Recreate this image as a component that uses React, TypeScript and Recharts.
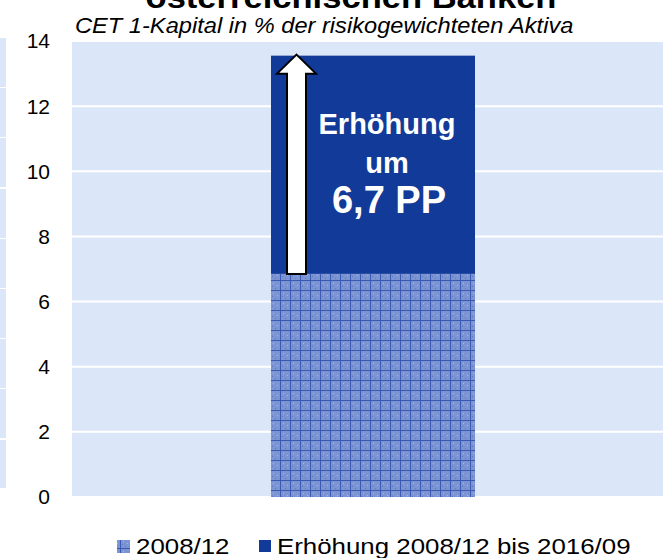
import React from "react";
import { BarChart, Bar, XAxis, YAxis, CartesianGrid } from "recharts";

const categories = ["Österreichische Banken"];
const baseValues = [6.85];
const increaseValues = [6.7];
const seriesNames = ["2008/12", "Erhöhung 2008/12 bis 2016/09"];
const yTicks = [0, 2, 4, 6, 8, 10, 12, 14];
const barText = ["Erhöhung", "um", "6,7 PP"];

const FONT = "'Liberation Sans', Arial, Helvetica, sans-serif";
const DARK = "#123b99";
const PLOT_BG = "#dce6f9";

const data = categories.map((name, i) => ({
  name,
  base: baseValues[i],
  increase: increaseValues[i],
}));

function PatternDefs() {
  return (
    <svg width={0} height={0} style={{ position: "absolute" }}>
      <defs>
        <pattern id="gridPat" width={10} height={10} patternUnits="userSpaceOnUse">
          <rect width={10} height={10} fill="#7c95d2" />
          <rect x={3} y={3} width={1} height={1} fill="#a4b5e0" />
          <rect x={7} y={5} width={1} height={1} fill="#a4b5e0" />
          <rect x={5} y={8} width={1} height={1} fill="#5c78c6" />
          <rect x={2} y={6} width={1} height={1} fill="#5c78c6" />
          <rect x={0} y={0} width={10} height={1} fill="#3a59b2" />
          <rect x={0} y={0} width={1} height={10} fill="#3a59b2" />
        </pattern>
      </defs>
    </svg>
  );
}

function IncreaseShape(props: any) {
  const { x, y, width, height } = props;
  const ax = x + 25.5;
  const bottom = y + height;
  const headY = y + 18;
  const arrow = [
    [ax - 9.5, bottom],
    [ax - 9.5, headY],
    [ax - 19.5, headY],
    [ax, y - 1],
    [ax + 19.5, headY],
    [ax + 9.5, headY],
    [ax + 9.5, bottom],
  ]
    .map((p) => p.join(","))
    .join(" ");
  const cx = x + width / 2 + 14;
  return (
    <g>
      <rect x={x} y={y} width={width} height={height} fill={DARK} />
      <polygon points={arrow} fill="#ffffff" stroke="#000000" strokeWidth={2} />
      <text x={cx} y={y + 78} textAnchor="middle" fill="#ffffff" fontFamily={FONT} fontWeight="bold" fontSize={29}>
        {barText[0]}
      </text>
      <text x={cx} y={y + 117} textAnchor="middle" fill="#ffffff" fontFamily={FONT} fontWeight="bold" fontSize={29}>
        {barText[1]}
      </text>
      <text x={cx + 2} y={y + 157} textAnchor="middle" fill="#ffffff" fontFamily={FONT} fontWeight="bold" fontSize={38}>
        {barText[2]}
      </text>
    </g>
  );
}

export default function App() {
  return (
    <div
      style={{
        position: "absolute",
        left: 0,
        top: 0,
        width: 663,
        height: 558,
        overflow: "hidden",
        background: "#ffffff",
        fontFamily: FONT,
      }}
    >
      <PatternDefs />
      {/* neighbouring panel, cut off at the left edge */}
      <div
        style={{
          position: "absolute",
          left: 0,
          top: 38,
          width: 6,
          height: 450,
          background:
            "repeating-linear-gradient(to bottom, #dce6f9 0px, #dce6f9 49px, #ffffff 49px, #ffffff 50.2px)",
        }}
      />
      <svg width={663} height={40} style={{ position: "absolute", left: 0, top: 0 }}>
        <g transform="translate(351,8) scale(1.08,1)">
          <text x={0} y={0} textAnchor="middle" fontFamily={FONT} fontWeight="bold" fontSize={32} fill="#000">
            österreichischen Banken
          </text>
        </g>
        <g transform="translate(75,33) scale(1.075,1)">
          <text x={0} y={0} fontFamily={FONT} fontStyle="italic" fontSize={22} fill="#000">
            CET 1-Kapital in % der risikogewichteten Aktiva
          </text>
        </g>
      </svg>
      <div style={{ position: "absolute", left: 0, top: 0 }}>
        <BarChart
          width={680}
          height={558}
          data={data}
          margin={{ top: 41, right: 6, bottom: 61, left: 0 }}
          barSize={204}
        >
          <CartesianGrid vertical={false} stroke="#ffffff" strokeWidth={2} fill={PLOT_BG} fillOpacity={1} />
          <XAxis dataKey="name" hide />
          <YAxis
            domain={[0, 14]}
            ticks={yTicks}
            interval={0}
            width={72}
            axisLine={false}
            tickLine={false}
            tickMargin={16}
            tick={{ fontSize: 21, fill: "#000", fontFamily: FONT }}
          />
          <Bar dataKey="base" stackId="a" fill="url(#gridPat)" isAnimationActive={false} />
          <Bar dataKey="increase" stackId="a" fill={DARK} shape={IncreaseShape} isAnimationActive={false} />
        </BarChart>
      </div>
      <svg width={663} height={30} style={{ position: "absolute", left: 0, top: 528 }}>
        <rect x={117} y={12} width={13} height={13} fill="url(#gridPat)" />
        <g transform="translate(136,26) scale(1.175,1)">
          <text x={0} y={0} fontFamily={FONT} fontSize={22} fill="#000">
            {seriesNames[0]}
          </text>
        </g>
        <rect x={259} y={12} width={12} height={12} fill={DARK} />
        <g transform="translate(277,26) scale(1.175,1)">
          <text x={0} y={0} fontFamily={FONT} fontSize={22} fill="#000">
            {seriesNames[1]}
          </text>
        </g>
      </svg>
    </div>
  );
}
